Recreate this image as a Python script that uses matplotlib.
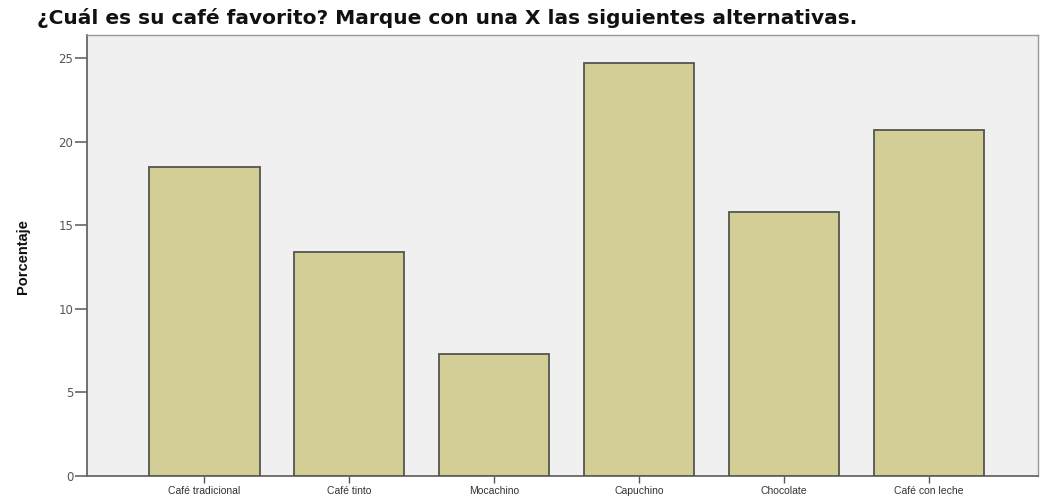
import matplotlib
matplotlib.use("Agg")
import matplotlib.pyplot as plt
import numpy as np

categories = ["Café tradicional", "Café tinto", "Mocachino", "Capuchino", "Chocolate", "Café con leche"]
values = [18.5, 13.4, 7.3, 24.7, 15.8, 20.7]
yticks = [0, 5, 10, 15, 20, 25]

plt.rcParams['font.family'] = ['Liberation Sans', 'DejaVu Sans']

fig = plt.figure(figsize=(10.41, 4.97), dpi=100)
ax = fig.add_axes([0.0836, 0.0423, 0.9134, 0.8873])
ax.set_facecolor('#f0f0f0')

x = np.arange(len(categories))
ax.bar(x, values, width=0.76, color='#d3ce96', edgecolor='#555550', linewidth=1.3, zorder=3)

ax.set_xlim(-0.81, 5.75)
ax.set_ylim(0, 26.4)
ax.set_yticks(yticks)
ax.set_yticklabels([str(t) for t in yticks], family=['DejaVu Sans'], fontsize=8.5, color='#555555')
ax.set_xticks(x)
ax.set_xticklabels(categories, fontsize=7.5, color='#333333')
ax.tick_params(axis='y', direction='out', length=9, width=1.2, color='#666666', pad=1)
ax.tick_params(axis='x', direction='out', length=5, width=1, color='#555555', pad=2)

for s in ['left', 'bottom']:
    ax.spines[s].set_color('#666666')
    ax.spines[s].set_linewidth(1.3)
for s in ['top', 'right']:
    ax.spines[s].set_color('#999999')
    ax.spines[s].set_linewidth(1.0)

fig.text(23 / 1041, 1 - 257 / 497, "Porcentaje", rotation=90, ha='center', va='center',
         fontsize=10.5, fontweight='bold', color='#111111',
         family=['Liberation Sans Narrow', 'Liberation Sans', 'DejaVu Sans'])

fig.text(0.036, 0.964, "¿Cuál es su café favorito? Marque con una X las siguientes alternativas.",
         fontsize=14.5, fontweight='bold', ha='left', va='center', color='#111111',
         family=['DejaVu Sans'])

fig.savefig("out.png", dpi=100)
